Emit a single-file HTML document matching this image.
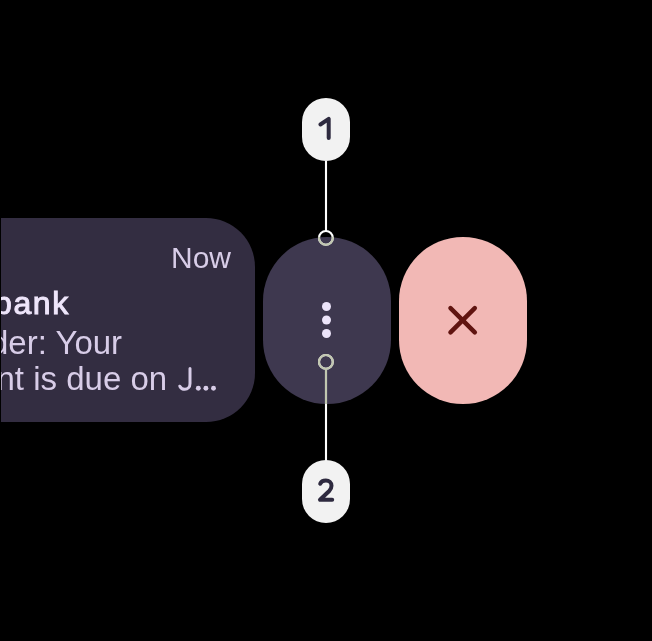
<!DOCTYPE html>
<html><head><meta charset="utf-8">
<style>
html,body{margin:0;padding:0;background:#000;width:652px;height:641px;overflow:hidden;position:relative;font-family:"Liberation Sans",sans-serif;}
.clip{position:absolute;left:1px;top:0;width:651px;height:641px;overflow:hidden;will-change:transform;}
.card{position:absolute;left:-300px;top:218px;width:553.75px;height:204px;background:#332d41;border-radius:0 49px 49px 0;}
.t{position:absolute;white-space:nowrap;font-size:30px;color:#d8cde8;line-height:30px;}
.title{font-weight:normal;color:#efe6fb;-webkit-text-stroke:1px #efe6fb;}
.btn{position:absolute;width:128px;height:167.5px;border-radius:64px;}
.menu{left:262.5px;top:236.5px;background:#3e384f;}
.close{left:398.8px;top:236.5px;background:#f2b8b5;}
.badge{position:absolute;left:302px;width:48px;height:63px;border-radius:24px;background:#f2f2f2;}
svg{position:absolute;left:0;top:0;}
</style></head><body>
<div class="clip">
  <div class="card"></div>
  <div class="t now" style="left:170px;top:243px;">Now</div>
  <div class="t title" style="left:-7px;top:288px;font-size:32px;letter-spacing:1.6px;">bank</div>
  <div class="t" style="left:-11px;top:328px;font-size:33px;">der: Your</div>
  <div class="t" style="left:-4.5px;top:364px;font-size:33px;">nt is due on</div>
</div>
<div class="btn menu"></div>
<div class="btn close"></div>
<div class="badge" style="top:98.2px"></div>
<div class="badge" style="top:460.3px"></div>
<svg width="652" height="641" viewBox="0 0 652 641">
  <g fill="#d8cde8">
    <circle cx="198.3" cy="388.3" r="2.45"/>
    <circle cx="205.9" cy="388.3" r="2.45"/>
    <circle cx="213.5" cy="388.3" r="2.45"/>
  </g>
  <path d="M190 368.4 L190 383.5 C190 387.3 187.6 389.3 184.8 389.3 C182.6 389.3 180.8 388.1 179.8 386.2" stroke="#d8cde8" stroke-width="3" stroke-linecap="round" fill="none"/>
  <g fill="#ece4fa">
    <circle cx="326.5" cy="306.5" r="4.5"/>
    <circle cx="326.5" cy="320" r="4.5"/>
    <circle cx="326.5" cy="333.5" r="4.5"/>
  </g>
  <g stroke="#601410" stroke-width="4.5" stroke-linecap="round" fill="none">
    <path d="M450.5 308.2 L474.8 332.4 M474.8 308.2 L450.5 332.4"/>
  </g>
  <g stroke="#2e2a3f" stroke-width="4" stroke-linecap="round" stroke-linejoin="round" fill="none">
    <path d="M320.4 124.5 L328.7 118.9 L328.7 138"/>
    <path d="M320.2 483.8 C321 481.8 323.2 480.6 325.9 480.6 C329.1 480.6 331.5 482.8 331.5 485.8 C331.5 488.2 330.4 489.8 329.2 491 L320 499.8 L332.2 499.8"/>
  </g>
</svg>
<svg width="652" height="641" viewBox="0 0 652 641">
  <defs><clipPath id="bc"><rect x="262.5" y="236.5" width="128" height="167.5" rx="64" ry="64"/></clipPath></defs>
  <g stroke="#fff" stroke-width="2.1" fill="none">
    <path d="M326 161 L326 231 M326 369 L326 460.5"/>
    <circle cx="325.9" cy="237.9" r="6.9"/>
    <circle cx="325.9" cy="361.9" r="6.9"/>
  </g>
  <g stroke="#c1c7b0" stroke-width="2.1" fill="none" clip-path="url(#bc)">
    <path d="M326 161 L326 231 M326 369 L326 460.5"/>
    <circle cx="325.9" cy="237.9" r="6.9"/>
    <circle cx="325.9" cy="361.9" r="6.9"/>
  </g>
</svg>
</body></html>
